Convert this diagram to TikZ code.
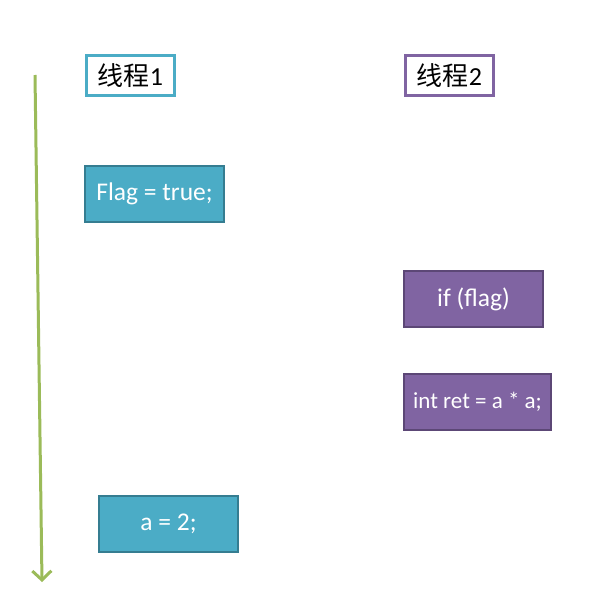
\documentclass[tikz,border=0pt]{standalone}
\usepackage{fontspec}
\setmainfont{Carlito}
\newfontfamily\cjk{Noto Sans CJK SC}
\usetikzlibrary{arrows.meta}

\begin{document}
\begin{tikzpicture}[x=1pt,y=-1pt,
        title/.style={draw,line width=2.6pt,fill=white,inner sep=0pt,
            minimum width=88pt,minimum height=40pt,font=\fontsize{26}{30}\selectfont},
        codebox/.style={line width=2pt,inner sep=0pt,text=white,
            minimum height=56pt,font=\fontsize{25.5}{30}\selectfont}]
        \definecolor{tealbox}{RGB}{75,172,198}
        \definecolor{tealline}{RGB}{53,125,145}
        \definecolor{purplebox}{RGB}{128,100,162}
        \definecolor{purpleline}{RGB}{92,71,118}
        \definecolor{timegreen}{RGB}{155,187,89}

        \useasboundingbox (0,0) rectangle (600,602);

        % thread titles
        \node[title,draw=tealbox] (t1) at (130.5,75.5) {{\cjk 线程}1};
        \node[title,draw=purplebox] (t2) at (449.5,75.5) {{\cjk 线程}2};

        % thread 1 code
        \node[codebox,fill=tealbox,draw=tealline,minimum width=139pt]
            (flag) at (154.5,193.5) {Flag = true;};
        \node[codebox,fill=tealbox,draw=tealline,minimum width=139pt]
            (assign) at (168.5,524) {a = 2;};

        % thread 2 code
        \node[codebox,fill=purplebox,draw=purpleline,minimum width=139pt]
            (check) at (473.5,299) {if (flag)};
        \node[codebox,fill=purplebox,draw=purpleline,minimum width=147pt,
              font=\fontsize{23}{28}\selectfont]
            (ret) at (477.5,402) {int ret = a * a;};

        % time axis
        \coordinate (start) at (35,75);
        \coordinate (stop) at (42,582);
        \draw[timegreen,line width=3pt,
              -{Straight Barb[length=9pt,width=19pt,line width=3pt]}]
            (start)--(stop);
    \end{tikzpicture}
\end{document}
